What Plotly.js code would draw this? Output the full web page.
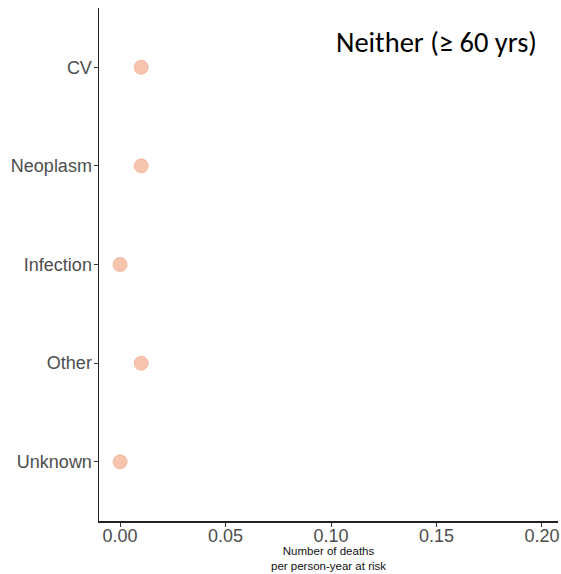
<!DOCTYPE html>
<html><head><meta charset="utf-8">
<script src="https://cdn.plot.ly/plotly-3.0.1.min.js"></script>
<style>body{margin:0;padding:0;background:#fff}#chart{width:561px;height:574px}</style>
</head><body><div id="chart"></div>
<script>
const categories = ["CV", "Neoplasm", "Infection", "Other", "Unknown"];
const rates = [0.01, 0.01, 0.0, 0.01, 0.0];
const xTicks = [0, 0.05, 0.10, 0.15, 0.20];
const xTickLabels = ["0.00", "0.05", "0.10", "0.15", "0.20"];
const xTitle = "Number of deaths<br>per person-year at risk";
const panelLabel = "Neither (≥ 60 yrs)";

const trace = {
  type: "scatter", mode: "markers",
  x: rates, y: categories,
  marker: {size: 14, color: "#f7c5ad", line: {color: "#f0b093", width: 0.8}},
  hoverinfo: "skip"
};
const layout = {
  width: 561, height: 574,
  margin: {l: 99, r: 3, t: 8, b: 53},
  paper_bgcolor: "#fff", plot_bgcolor: "#fff",
  showlegend: false,
  font: {family: "Liberation Sans, Arial, sans-serif"},
  xaxis: {
    range: [-0.01, 0.2076], tickvals: xTicks, ticktext: xTickLabels,
    showgrid: false, zeroline: false, showline: true, linecolor: "#222", linewidth: 1.5,
    ticks: "outside", ticklen: 4, tickcolor: "#333", tickwidth: 1,
    ticklabelstandoff: -6,
    tickfont: {size: 18, color: "#4d4d4d"}
  },
  yaxis: {
    type: "category", categoryorder: "array", categoryarray: categories,
    range: [4.6, -0.6],
    showgrid: false, zeroline: false, showline: true, linecolor: "#222", linewidth: 1.5,
    ticks: "outside", ticklen: 4, tickcolor: "#333", tickwidth: 1,
    ticklabelstandoff: -2,
    tickfont: {size: 18, color: "#4d4d4d"}
  },
  annotations: [{
    text: panelLabel, xref: "paper", yref: "paper",
    x: 0.736, y: 0.933, xanchor: "center", yanchor: "middle", showarrow: false,
    font: {size: 28.5, color: "#000", family: "Carlito, Calibri, Lato, sans-serif"}
  }, {
    text: xTitle, xref: "paper", yref: "paper",
    x: 0.50, y: -0.074, xanchor: "center", yanchor: "middle", showarrow: false,
    borderpad: 0,
    font: {size: 11.5, color: "#111"}
  }]
};
Plotly.newPlot("chart", [trace], layout, {displayModeBar: false, staticPlot: true});
</script></body></html>
